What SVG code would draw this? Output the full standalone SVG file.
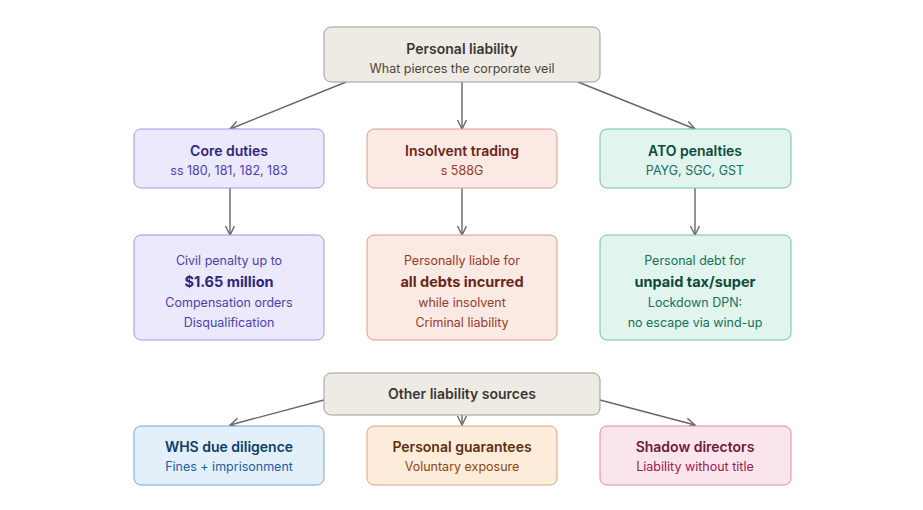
<svg xmlns="http://www.w3.org/2000/svg" width="923" height="510" viewBox="0 0 923 510">
<defs>
<marker id="arr" viewBox="0 0 12 12" refX="10" refY="6" markerWidth="12" markerHeight="12" markerUnits="userSpaceOnUse" orient="auto">
<path d="M1,1.5 L10,6 L1,10.5" fill="none" stroke="#666" stroke-width="1.4"/>
</marker>
<style>
text{font-family:Inter,"Liberation Sans",sans-serif;text-anchor:middle}
.t{font-size:14px;font-weight:600}
.s{font-size:12.5px}
.b{font-size:14.5px;font-weight:700}
.e path{fill:none;stroke:#666;stroke-width:1.4;marker-end:url(#arr)}
rect{stroke-width:1}
.gy rect{fill:#eeebe5;stroke:#a09b93}.gy .t{fill:#3a3834}.gy .s{fill:#4a4741}
.pu rect{fill:#ebe9fb;stroke:#9e97e2}.pu .t,.pu .b{fill:#2c2680}.pu .s{fill:#4a41b0}
.rd rect{fill:#fbe9e4;stroke:#dc9c8f}.rd .t,.rd .b{fill:#6a2618}.rd .s{fill:#983b29}
.gn rect{fill:#e1f5ee;stroke:#72c2a4}.gn .t,.gn .b{fill:#0e4a3a}.gn .s{fill:#16705a}
.bl rect{fill:#e3eff9;stroke:#74a8d8}.bl .t{fill:#0e3e6c}.bl .s{fill:#1c5fa3}
.or rect{fill:#fcecd9;stroke:#d9a47c}.or .t{fill:#5a3210}.or .s{fill:#8a4813}
.pk rect{fill:#fbe5ec;stroke:#d98ca7}.pk .t{fill:#6c1a3a}.pk .s{fill:#972250}
</style>
</defs>
<rect width="923" height="510" fill="#fff"/>
<g class="e" id="connectors">
<path d="M346,82 L230,129"/>
<path d="M462,82 L462,129"/>
<path d="M578,82 L695,129"/>
<path d="M230,188 L230,235"/>
<path d="M462,188 L462,235"/>
<path d="M695,188 L695,235"/>
<path d="M324,400 L230,425"/>
<path d="M462,415 L462,425"/>
<path d="M600,400 L695,425"/>
</g>
<g id="personal-liability" class="gy">
<rect x="324" y="27" width="276" height="55" rx="7"/>
<text class="t" x="462" y="54">Personal liability</text>
<text class="s" x="462" y="73">What pierces the corporate veil</text>
</g>
<g id="core-duties" class="pu">
<rect x="134" y="129" width="190" height="59" rx="7"/>
<text class="t" x="229" y="156">Core duties</text>
<text class="s" x="229" y="175">ss 180, 181, 182, 183</text>
</g>
<g id="insolvent-trading" class="rd">
<rect x="367" y="129" width="190" height="59" rx="7"/>
<text class="t" x="462" y="156">Insolvent trading</text>
<text class="s" x="462" y="175">s 588G</text>
</g>
<g id="ato-penalties" class="gn">
<rect x="600" y="129" width="191" height="59" rx="7"/>
<text class="t" x="695" y="156">ATO penalties</text>
<text class="s" x="695" y="175">PAYG, SGC, GST</text>
</g>
<g id="civil-penalty" class="pu">
<rect x="134" y="235" width="190" height="105" rx="7"/>
<text class="s" x="229" y="265">Civil penalty up to</text>
<text class="b" x="229" y="287">$1.65 million</text>
<text class="s" x="229" y="307">Compensation orders</text>
<text class="s" x="229" y="327">Disqualification</text>
</g>
<g id="personally-liable" class="rd">
<rect x="367" y="235" width="190" height="105" rx="7"/>
<text class="s" x="462" y="265">Personally liable for</text>
<text class="b" x="462" y="287">all debts incurred</text>
<text class="s" x="462" y="307">while insolvent</text>
<text class="s" x="462" y="327">Criminal liability</text>
</g>
<g id="personal-debt" class="gn">
<rect x="600" y="235" width="191" height="105" rx="7"/>
<text class="s" x="695" y="265">Personal debt for</text>
<text class="b" x="695" y="287">unpaid tax/super</text>
<text class="s" x="695" y="307">Lockdown DPN:</text>
<text class="s" x="695" y="327">no escape via wind-up</text>
</g>
<g id="other-sources" class="gy">
<rect x="324" y="373" width="276" height="42" rx="7"/>
<text class="t" x="462" y="399">Other liability sources</text>
</g>
<g id="whs" class="bl">
<rect x="134" y="426" width="190" height="59" rx="7"/>
<text class="t" x="229" y="452">WHS due diligence</text>
<text class="s" x="229" y="471">Fines + imprisonment</text>
</g>
<g id="guarantees" class="or">
<rect x="367" y="426" width="190" height="59" rx="7"/>
<text class="t" x="462" y="452">Personal guarantees</text>
<text class="s" x="462" y="471">Voluntary exposure</text>
</g>
<g id="shadow" class="pk">
<rect x="600" y="426" width="191" height="59" rx="7"/>
<text class="t" x="695" y="452">Shadow directors</text>
<text class="s" x="695" y="471">Liability without title</text>
</g>
</svg>
